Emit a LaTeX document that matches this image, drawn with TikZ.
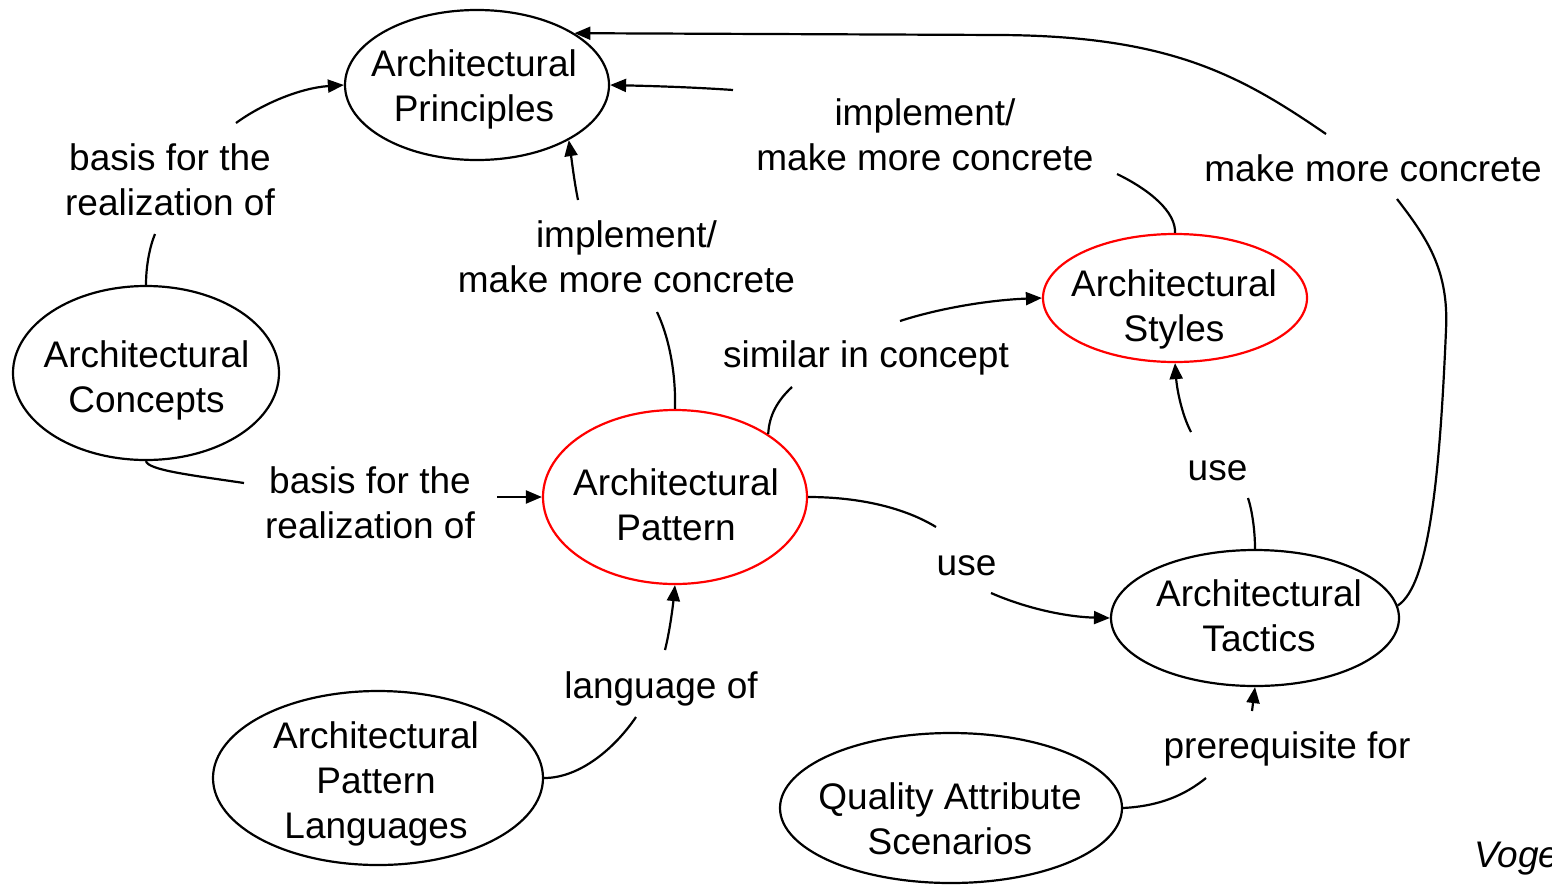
\documentclass[tikz,border=0pt]{standalone}
\usepackage{fontspec}
\setmainfont{Liberation Sans}
\usetikzlibrary{shapes.geometric,arrows.meta}
\begin{document}
\begin{tikzpicture}[x=1pt,y=-1pt,
  ell/.style={draw=black,line width=2.2pt,ellipse,inner sep=0pt},
  ellred/.style={ell,draw=red},
  txt/.style={inner sep=0pt,align=center,font=\fontsize{37pt}{45pt}\selectfont},
  conn/.style={line width=2.2pt},
  conarr/.style={conn,-{Triangle[length=16pt,width=13pt]}}
]
\clip (0,0) rectangle (1552,884);

% concept ellipses
\node[ell,minimum width=264pt,minimum height=150pt] (princ) at (477,85) {};
\node[ell,minimum width=266pt,minimum height=174pt] (conc) at (146,373) {};
\node[ellred,minimum width=264pt,minimum height=174pt] (patt) at (675,497) {};
\node[ellred,minimum width=264pt,minimum height=128pt] (sty) at (1175,298) {};
\node[ell,minimum width=288pt,minimum height=136pt] (tac) at (1255,618) {};
\node[ell,minimum width=330pt,minimum height=174pt] (pl) at (378,778) {};
\node[ell,minimum width=342pt,minimum height=150pt] (qas) at (951,808) {};

% concept names
\node[txt] (princ-t) at (474,89.5) {Architectural\\Principles};
\node[txt] (conc-t) at (146.5,380) {Architectural\\Concepts};
\node[txt] (patt-t) at (676,505) {Architectural\\Pattern};
\node[txt] (sty-t) at (1174,309) {Architectural\\Styles};
\node[txt] (tac-t) at (1259,615.5) {Architectural\\Tactics};
\node[txt] (pl-t) at (376,783.5) {Architectural\\Pattern\\Languages};
\node[txt] (qas-t) at (950,818.5) {Quality Attribute\\Scenarios};

% relation labels
\node[txt] (labA) at (170,179.5) {basis for the\\realization of};
\node[txt] (labE) at (370,503) {basis for the\\realization of};
\node[txt] (labB) at (626.5,256.5) {implement/\\make more concrete};
\node[txt] (labC) at (925,134.5) {implement/\\make more concrete};
\node[txt] (labD) at (1373,168) {make more concrete};
\node[txt] (labF) at (866,358) {similar in concept};
\node[txt] (labH) at (1217.5,471) {use};
\node[txt] (labG) at (966.5,566) {use};
\node[txt] (labI) at (661,689) {language of};
\node[txt] (labJ) at (1287,749) {prerequisite for};
\node[txt,anchor=west,font=\fontsize{37pt}{45pt}\selectfont\itshape] (src) at (1474,859) {Voge};

% free ends of the connectors, beside the labels
\coordinate (a1) at (155,234);   \coordinate (a2) at (236,123);
\coordinate (b1) at (657,312);   \coordinate (b2) at (578,200);
\coordinate (c1) at (1117,174);  \coordinate (c2) at (733,90);
\coordinate (d1) at (1397,199);  \coordinate (d2) at (1326,134);
\coordinate (e1) at (244,483);   \coordinate (e2) at (497,497);
\coordinate (f1) at (792,387);   \coordinate (f2) at (900,321);
\coordinate (g1) at (936,527);   \coordinate (g2) at (991,593);
\coordinate (h1) at (1248,498);  \coordinate (h2) at (1191,432);
\coordinate (i1) at (636,717);   \coordinate (i2) at (665,650);
\coordinate (j1) at (1206,778);  \coordinate (j2) at (1252,711);

% concepts -> principles
\draw[conn] (conc.north) .. controls (146,265) and (150,246) .. (a1);
\draw[conarr] (a2) .. controls (262,104) and (300,88) .. (princ.west);

% pattern -> principles
\draw[conn] (patt.north) .. controls (676,370) and (668,335) .. (b1);
\draw[conarr] (b2) .. controls (574,180) and (572,162) .. (princ.-31);

% styles -> principles
\draw[conn] (sty.north) .. controls (1176,212) and (1150,190) .. (c1);
\draw[conarr] (c2) .. controls (690,87) and (650,86) .. (princ.east);

% tactics -> principles
\draw[conn] (tac.5) .. controls (1430,585) and (1440,470) .. (1446,330)
  .. controls (1449,270) and (1427,238) .. (d1);
\draw[conarr] (d2) .. controls (1240,75) and (1170,36) .. (1000,35) -- (princ.28);

% concepts -> pattern
\draw[conn] (conc.south) .. controls (148,470) and (190,475) .. (e1);
\draw[conarr] (e2) -- (patt.west);

% pattern -> styles
\draw[conn] (patt.34) .. controls (769,415) and (778,400) .. (f1);
\draw[conarr] (f2) .. controls (940,308) and (990,300) .. (sty.west);

% pattern -> tactics
\draw[conn] (patt.east) .. controls (860,497) and (905,508) .. (g1);
\draw[conarr] (g2) .. controls (1030,610) and (1070,617) .. (tac.west);

% tactics -> styles
\draw[conn] (tac.north) .. controls (1255,530) and (1252,510) .. (h1);
\draw[conarr] (h2) .. controls (1182,415) and (1177,390) .. (sty.south);

% pattern languages -> pattern
\draw[conn] (pl.east) .. controls (580,778) and (615,748) .. (i1);
\draw[conarr] (i2) .. controls (670,630) and (673,605) .. (patt.south);

% quality attribute scenarios -> tactics
\draw[conn] (qas.east) .. controls (1160,806) and (1185,795) .. (j1);
\draw[conarr] (j2) -- (tac.south);
\end{tikzpicture}
\end{document}
